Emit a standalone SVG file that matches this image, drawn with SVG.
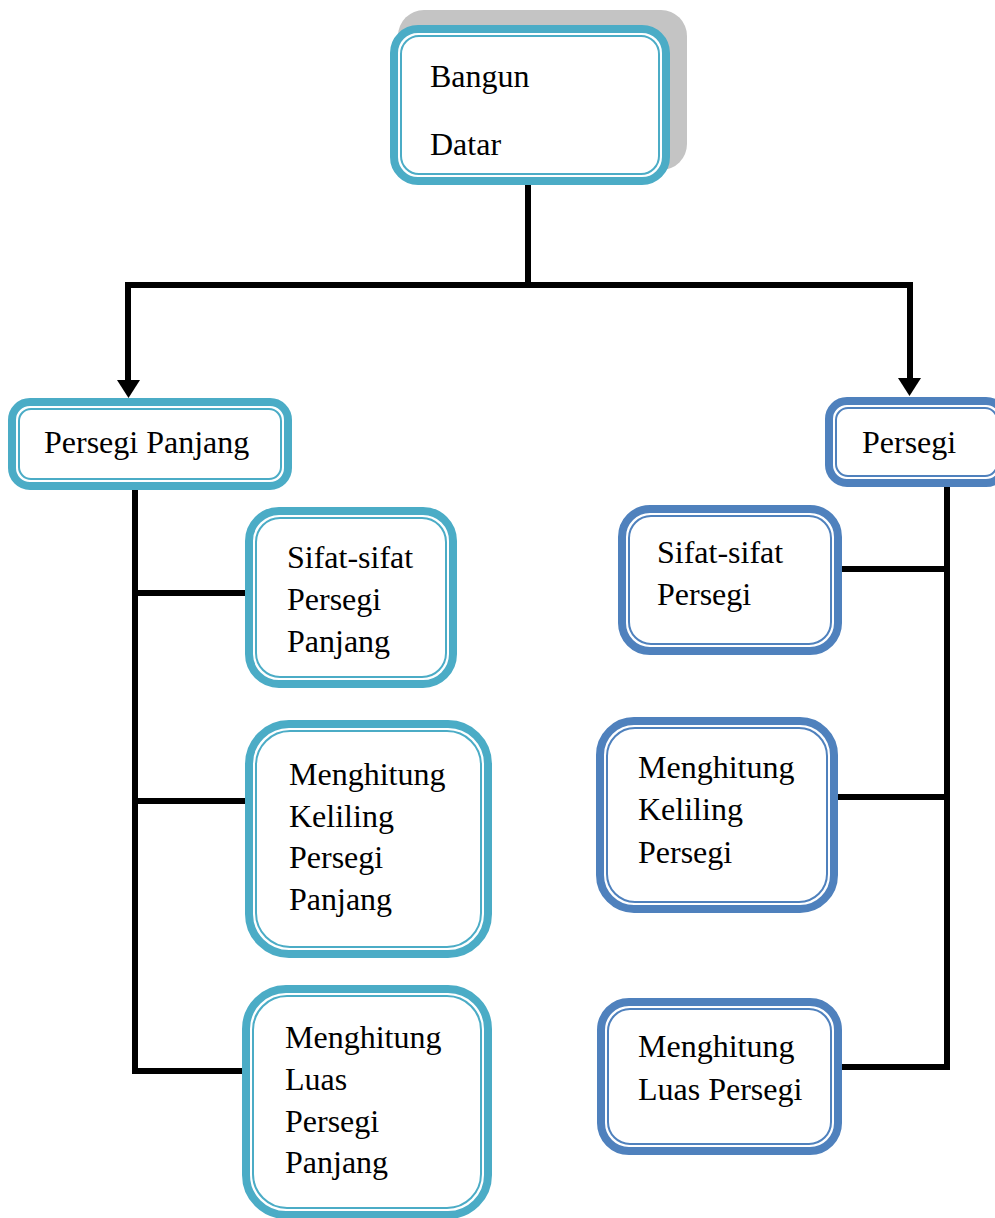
<svg xmlns="http://www.w3.org/2000/svg" width="995" height="1218" viewBox="0 0 995 1218">
<style>
.o{fill:#fff;stroke-width:8}
.i{fill:none;stroke-width:2}
.t .o,.t .i{stroke:#4BACC6}
.b .o,.b .i{stroke:#4F81BD}
text{font-family:"Liberation Serif","Times New Roman",serif;font-size:32px;fill:#000}
.c line{stroke:#000;stroke-width:6;stroke-linecap:square}
</style>
<rect width="995" height="1218" fill="#fff"/>
<g class="c" id="connectors">
<line x1="528" y1="185" x2="528" y2="285"/>
<line x1="128" y1="285" x2="910" y2="285"/>
<line x1="128" y1="285" x2="128" y2="380" stroke-linecap="butt"/>
<line x1="910" y1="285" x2="910" y2="378" stroke-linecap="butt"/>
<path d="M117,380 L140,380 L128.5,398 Z" fill="#000"/>
<path d="M898,378 L921,378 L909.5,396 Z" fill="#000"/>
<line x1="135" y1="490" x2="135" y2="1071"/>
<line x1="135" y1="593" x2="245" y2="593"/>
<line x1="135" y1="801" x2="245" y2="801"/>
<line x1="135" y1="1071" x2="242" y2="1071"/>
<line x1="947" y1="487" x2="947" y2="1067"/>
<line x1="842" y1="569" x2="947" y2="569"/>
<line x1="838" y1="797" x2="947" y2="797"/>
<line x1="842" y1="1067" x2="947" y2="1067"/>
</g>
<g id="bangun-datar" class="t">
<rect x="398" y="10" width="289" height="160" rx="26" fill="#C4C4C4"/>
<rect class="o" x="394" y="29" width="272" height="152" rx="24"/>
<rect class="i" x="401" y="36" width="258" height="138" rx="18"/>
<text x="430" y="87">Bangun</text>
<text x="430" y="155">Datar</text>
</g>
<g id="persegi-panjang" class="t">
<rect class="o" x="12" y="402" width="276" height="84" rx="18"/>
<rect class="i" x="19" y="409" width="262" height="70" rx="12"/>
<text x="44" y="453">Persegi Panjang</text>
</g>
<g id="persegi" class="b">
<rect class="o" x="829" y="401" width="175" height="82" rx="18"/>
<rect class="i" x="836" y="408" width="161" height="68" rx="12"/>
<text x="862" y="453">Persegi</text>
</g>
<g id="sifat-pp" class="t">
<rect class="o" x="249" y="511" width="204" height="173" rx="30"/>
<rect class="i" x="256" y="518" width="190" height="159" rx="24"/>
<text x="287" y="568">Sifat-sifat</text>
<text x="287" y="610">Persegi</text>
<text x="287" y="652">Panjang</text>
</g>
<g id="keliling-pp" class="t">
<rect class="o" x="249" y="724" width="239" height="230" rx="40"/>
<rect class="i" x="256" y="731" width="225" height="216" rx="34"/>
<text x="289" y="785">Menghitung</text>
<text x="289" y="827">Keliling</text>
<text x="289" y="868">Persegi</text>
<text x="289" y="910">Panjang</text>
</g>
<g id="luas-pp" class="t">
<rect class="o" x="246" y="989" width="242" height="226" rx="40"/>
<rect class="i" x="253" y="996" width="228" height="212" rx="34"/>
<text x="285" y="1048">Menghitung</text>
<text x="285" y="1090">Luas</text>
<text x="285" y="1132">Persegi</text>
<text x="285" y="1173">Panjang</text>
</g>
<g id="sifat-p" class="b">
<rect class="o" x="622" y="509" width="216" height="142" rx="28"/>
<rect class="i" x="629" y="516" width="202" height="128" rx="22"/>
<text x="657" y="563">Sifat-sifat</text>
<text x="657" y="605">Persegi</text>
</g>
<g id="keliling-p" class="b">
<rect class="o" x="600" y="721" width="234" height="188" rx="34"/>
<rect class="i" x="607" y="728" width="220" height="174" rx="28"/>
<text x="638" y="778">Menghitung</text>
<text x="638" y="820">Keliling</text>
<text x="638" y="863">Persegi</text>
</g>
<g id="luas-p" class="b">
<rect class="o" x="601" y="1002" width="237" height="149" rx="28"/>
<rect class="i" x="608" y="1009" width="223" height="135" rx="22"/>
<text x="638" y="1057">Menghitung</text>
<text x="638" y="1100">Luas Persegi</text>
</g>
</svg>
